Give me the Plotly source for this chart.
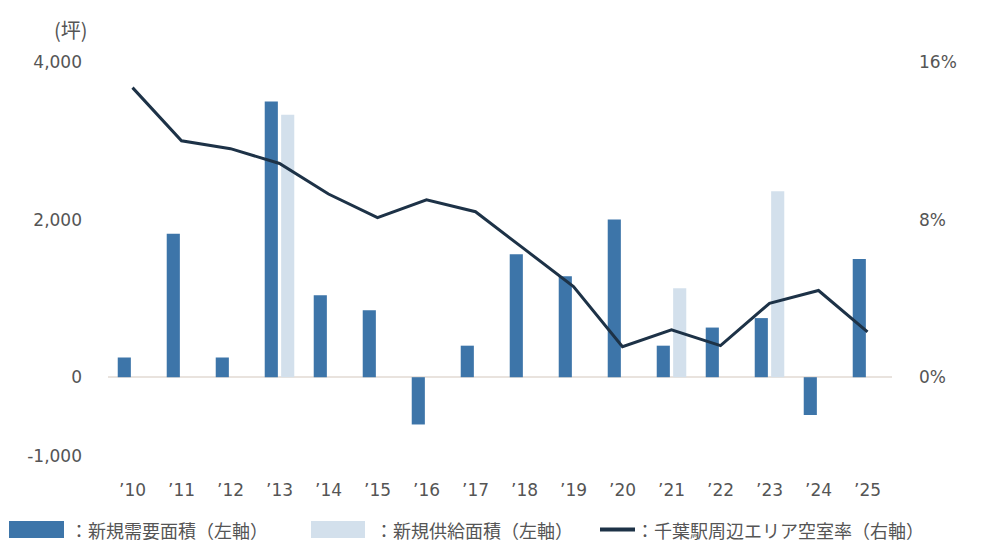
import plotly.graph_objects as go

# Fiscal years
years = ["’10", "’11", "’12", "’13", "’14", "’15", "’16", "’17",
         "’18", "’19", "’20", "’21", "’22", "’23", "’24", "’25"]

# New demand area (tsubo, left axis)
demand = [250, 1820, 250, 3500, 1040, 850, -600, 400,
          1560, 1280, 2000, 400, 630, 750, -480, 1500]

# New supply area (tsubo, left axis)
supply = [None, None, None, 3330, None, None, None, None,
          None, None, None, 1130, None, 2360, None, None]

# Vacancy rate around Chiba Station (%, right axis)
vacancy = [14.7, 12.0, 11.6, 10.85, 9.3, 8.1, 9.0, 8.4,
           6.5, 4.6, 1.55, 2.4, 1.6, 3.75, 4.4, 2.3]

DEMAND_COLOR = "#3d75a9"
SUPPLY_COLOR = "#d3e0ec"
LINE_COLOR = "#1d3247"
TEXT_COLOR = "#555555"
FONT = "DejaVu Sans"
JP_FONT = "Noto Sans CJK JP"

W, H = 986, 543
ML, MR, MT, MB = 108, 94, 62, 87

fig = go.Figure()
fig.add_trace(go.Bar(x=years, y=demand, name="新規需要面積（左軸）",
                     marker=dict(color=DEMAND_COLOR, line=dict(width=0))))
fig.add_trace(go.Bar(x=years, y=supply, name="新規供給面積（左軸）",
                     marker=dict(color=SUPPLY_COLOR, line=dict(width=0))))
fig.add_trace(go.Scatter(x=years, y=vacancy, name="千葉駅周辺エリア空室率（右軸）",
                         mode="lines", yaxis="y2",
                         line=dict(color=LINE_COLOR, width=3)))

tick_font = dict(family=FONT, size=17, color=TEXT_COLOR)
fig.update_layout(
    width=W, height=H,
    margin=dict(l=ML, r=MR, t=MT, b=MB),
    paper_bgcolor="white", plot_bgcolor="white",
    barmode="group", bargap=0.33, bargroupgap=0.2,
    showlegend=False,
    font=dict(family=FONT, size=17, color=TEXT_COLOR),
    xaxis=dict(showgrid=False, showline=False, ticks="",
               ticklabelstandoff=22, tickfont=tick_font),
    yaxis=dict(range=[-1000, 4000], tickvals=[-1000, 0, 2000, 4000],
               ticktext=["-1,000", "0", "2,000", "4,000"],
               showgrid=False, zeroline=True, zerolinecolor="#e9e3de",
               zerolinewidth=1.5, ticks="", ticklabelstandoff=25,
               tickfont=tick_font),
    yaxis2=dict(range=[-4, 16], tickvals=[0, 8, 16],
                ticktext=["0%", "8%", "16%"],
                overlaying="y", side="right", showgrid=False,
                zeroline=False, ticks="", ticklabelstandoff=26,
                tickfont=tick_font),
)


def px_x(x):
    return (x - ML) / (W - ML - MR)


def px_y(y):
    return (H - MB - y) / (H - MT - MB)


# Unit label above the left axis
fig.add_annotation(text="(坪)", xref="paper", yref="paper",
                   x=px_x(90), y=px_y(30), xanchor="right", yanchor="middle",
                   showarrow=False,
                   font=dict(family=JP_FONT, size=20, color=TEXT_COLOR))

# Legend row along the bottom of the page
ly0, ly1 = 521, 538
lmid = (ly0 + ly1) / 2
items = [
    ("rect", 9, 64, DEMAND_COLOR, "：新規需要面積（左軸）", 68),
    ("rect", 311, 365, SUPPLY_COLOR, "：新規供給面積（左軸）", 373),
    ("line", 600, 635, LINE_COLOR, "：千葉駅周辺エリア空室率（右軸）", 634),
]
for kind, x0, x1, color, label, tx in items:
    if kind == "rect":
        fig.add_shape(type="rect", xref="paper", yref="paper",
                      x0=px_x(x0), x1=px_x(x1), y0=px_y(ly1), y1=px_y(ly0),
                      fillcolor=color, line=dict(width=0))
    else:
        fig.add_shape(type="line", xref="paper", yref="paper",
                      x0=px_x(x0), x1=px_x(x1), y0=px_y(lmid), y1=px_y(lmid),
                      line=dict(color=color, width=4))
    fig.add_annotation(text=label, xref="paper", yref="paper",
                       x=px_x(tx), y=px_y(lmid),
                       xanchor="left", yanchor="middle", showarrow=False,
                       font=dict(family=JP_FONT, size=18, color=TEXT_COLOR))

fig.write_html("out.html")
